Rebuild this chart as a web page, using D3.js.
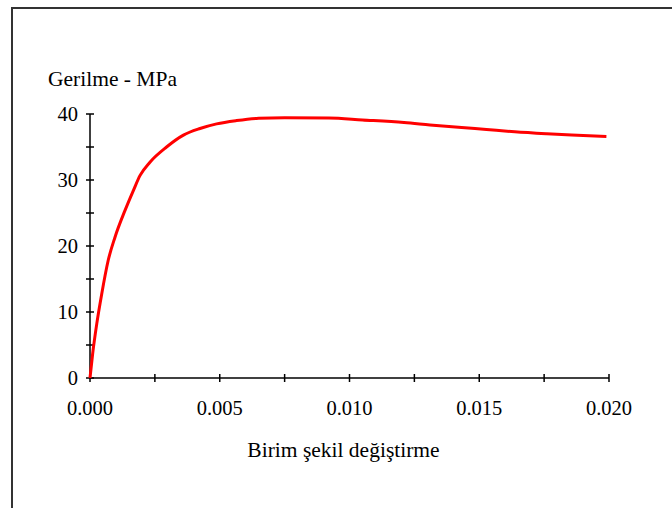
<!DOCTYPE html>
<html><head><meta charset="utf-8">
<script src="https://cdn.jsdelivr.net/npm/d3@7"></script>
<style>html,body{margin:0;padding:0;background:#fff;}svg{display:block;}</style>
</head><body>
<script>
const strain = [0, 0.0001, 0.00026, 0.00045, 0.0007, 0.00096, 0.00135, 0.00167, 0.00193, 0.00231, 0.00295, 0.0036, 0.00424, 0.00488, 0.00565, 0.0065, 0.0075, 0.0092, 0.0105, 0.0121, 0.0131, 0.01432, 0.01528, 0.01637, 0.0176, 0.01856, 0.0199];
const stress = [0, 3.6, 8.2, 12.7, 17.8, 21.3, 25.4, 28.4, 30.7, 32.7, 35.0, 36.8, 37.8, 38.5, 39.0, 39.35, 39.45, 39.4, 39.1, 38.7, 38.35, 37.95, 37.65, 37.3, 37.0, 36.8, 36.6];
const xTicks = [0, 0.005, 0.010, 0.015, 0.020];
const xMinor = [0.0025, 0.0075, 0.0125, 0.0175];
const yTicks = [0, 10, 20, 30, 40];
const yMinor = [5, 15, 25, 35];
const yTitle = "Gerilme - MPa";
const xTitle = "Birim şekil değiştirme";

const W = 672, H = 508;
const svg = d3.select("body").append("svg").attr("width", W).attr("height", H);
svg.append("path").attr("d", `M12,${H} L12,8 L${W},8`).attr("fill","none").attr("stroke","#333").attr("stroke-width",2);

const x = d3.scaleLinear().domain([0, 0.02]).range([90, 609]);
const y = d3.scaleLinear().domain([0, 40]).range([378, 114]);
const fsTick = 20.5, fsTitle = 21.5;
const ff = "Liberation Serif, DejaVu Serif, serif";

// x axis
svg.append("line").attr("x1", x(0)).attr("x2", x(0.02)).attr("y1", y(0)).attr("y2", y(0)).attr("stroke","#000").attr("stroke-width",1.5);
svg.selectAll(".xt").data(xTicks.concat(xMinor)).enter().append("line")
  .attr("x1", d=>x(d)).attr("x2", d=>x(d)).attr("y1", y(0)-4).attr("y2", y(0)+4).attr("stroke","#000").attr("stroke-width",1.5);
svg.selectAll(".xl").data(xTicks).enter().append("text")
  .attr("x", d=>x(d)).attr("y", 415).attr("text-anchor","middle")
  .style("font-family", ff).style("font-size", fsTick+"px").attr("fill","#000").text(d=>d3.format(".3f")(d));

// y axis
svg.append("line").attr("x1", x(0)).attr("x2", x(0)).attr("y1", y(0)).attr("y2", y(40)).attr("stroke","#000").attr("stroke-width",1.5);
svg.selectAll(".yt").data(yTicks.concat(yMinor)).enter().append("line")
  .attr("x1", x(0)-4).attr("x2", x(0)+4).attr("y1", d=>y(d)).attr("y2", d=>y(d)).attr("stroke","#000").attr("stroke-width",1.5);
svg.selectAll(".yl").data(yTicks).enter().append("text")
  .attr("x", 78).attr("y", d=>y(d)+7).attr("text-anchor","end")
  .style("font-family", ff).style("font-size", fsTick+"px").attr("fill","#000").text(d=>d);

// titles
svg.append("text").attr("x", 48).attr("y", 86).style("font-family", ff).style("font-size", fsTitle+"px").attr("fill","#000").text(yTitle);
svg.append("text").attr("x", 343.5).attr("y", 457).attr("text-anchor","middle").style("font-family", ff).style("font-size", fsTitle+"px").attr("fill","#000").text(xTitle);

// curve
const data = strain.map((s,i)=>[s, stress[i]]);
svg.append("path").datum(data)
  .attr("d", d3.line().x(d=>x(d[0])).y(d=>y(d[1])).curve(d3.curveMonotoneX))
  .attr("fill","none").attr("stroke","#ff0000").attr("stroke-width",3);
</script>
</body></html>
